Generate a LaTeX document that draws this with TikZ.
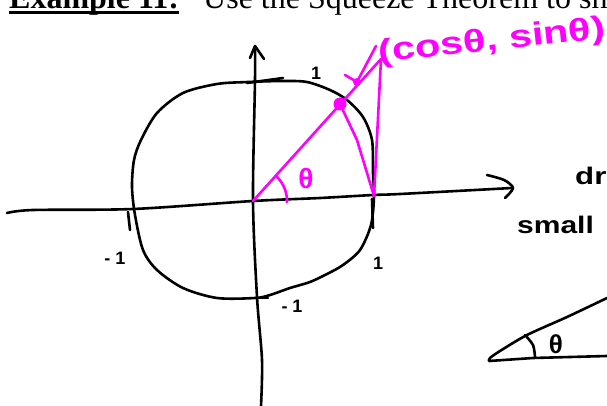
\documentclass[tikz,border=0pt]{standalone}
\usepackage{fontspec}
\setmainfont{Liberation Serif}
\newfontfamily\handfont{Liberation Sans}
\usetikzlibrary{arrows.meta}
\definecolor{pen}{RGB}{255,0,255}
\begin{document}
\begin{tikzpicture}[x=1pt,y=-1pt,
  ink/.style={line width=2.6pt,line cap=round,line join=round},
  pinkink/.style={ink,draw=pen},
  hand/.style={inner sep=0pt,font=\handfont\bfseries\fontsize{#1}{#1}\selectfont},
  hand/.default=18]
\useasboundingbox (0,0) rectangle (607,406);
% header
\node[anchor=base west,inner sep=0pt,font=\fontsize{32}{32}\selectfont\bfseries] (ex) at (9,9) {Example 11:};
\node[anchor=base west,inner sep=0pt,font=\fontsize{32}{32}\selectfont] (task) at (203,9) {Use the Squeeze Theorem to sh};
\draw[line width=3pt] (ex.base west) ++(0,3.5) coordinate (ul1) -- (ul1 -| ex.base east);
% axes
\coordinate (O) at (253,201);
\draw[ink] plot[smooth] coordinates {(7,213) (33,210) (133,209) (253,201) (320,198) (373,195) (400,194) (512,188)};
\draw[ink] plot[smooth] coordinates {(487,175) (504,180) (513,188) (505,198)};
\draw[ink] plot[smooth] coordinates {(255,47) (255,80) (253,201) (257,297) (262,360) (261,406)};
\draw[ink] (250,58) -- (255,46) -- (264,59);
% circle
\draw[ink] plot[smooth cycle] coordinates {(248,82) (283,81) (307,82) (330,90) (347,100) (363,117) (372,140) (373,173) (374,197) (371,225) (360,250) (343,265) (327,274) (310,282) (290,288) (270,295) (255,298) (217,298) (183,288) (157,270) (143,250) (135,215) (132,187) (134,160) (141,140) (157,113) (183,93) (217,84)};
% ticks
\draw[ink] (247,83) -- (283,78);
\draw[ink] (128,212) -- (130,230);
\draw[ink] (257,298) -- (268,298);
\draw[ink] (372,199) -- (373,228);
\node[hand] (one1) at (316,73) {1};
\node[hand] (one2) at (115,258) {- 1};
\node[hand] (one3) at (292,306) {- 1};
\node[hand] (one4) at (378,263) {1};
% pink construction
\coordinate (P) at (340,104);
\coordinate (T) at (381,59);
\coordinate (A) at (374,196);
\draw[pinkink] (O) -- (T) -- (A);
\draw[pinkink] (P) -- (357,140) -- (A);
\fill[pen] (P) circle (6.5);
\fill[pen] (357,82) circle (4);
\draw[pinkink] (376,46) -- (358,80);
\draw[pinkink] (345,75) -- (357,82);
\draw[pinkink] (O) ++(-46:34) arc[start angle=-46,end angle=2,radius=34];
\node[hand=28,text=pen] (th1) at (306,178) {θ};
\node[hand=32,text=pen,rotate=6] (lab) at (492,42) {\scalebox{1.3}[1]{(cosθ, sinθ)}};
% right side text
\node[hand=24,anchor=base west] (dr) at (575,185) {\scalebox{1.3}[1]{dr}};
\node[hand=24,anchor=base west] (sm) at (517,233) {\scalebox{1.25}[1]{small}};
% small triangle
\draw[ink] plot[smooth] coordinates {(607,298) (567,317) (527,335) (500,351) (490,358) (489,361)} -- (533,358) -- (607,356);
\draw[ink] plot[smooth] coordinates {(525,335) (533,345) (535,357)};
\node[hand=26] (th2) at (556,344) {θ};
\end{tikzpicture}
\end{document}
